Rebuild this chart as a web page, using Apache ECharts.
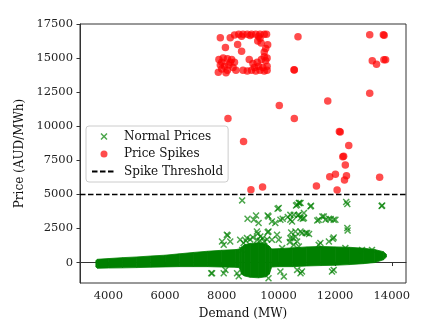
<!DOCTYPE html>
<html>
<head>
<meta charset="utf-8">
<script src="https://cdn.jsdelivr.net/npm/echarts@6/dist/echarts.min.js"></script>
<style>html,body{margin:0;padding:0;background:#fff}#c{width:429px;height:328px}</style>
</head>
<body>
<div id="c"></div>
<script>
// ---- data ----
const xTicks = [4000, 6000, 8000, 10000, 12000, 14000];
const yTicks = [0, 2500, 5000, 7500, 10000, 12500, 15000, 17500];
const xRange = [3000, 14500];
const yRange = [-1500, 17500];
const spikeThreshold = 5000;

// dense band of normal prices: demand, lower edge, upper edge of the cloud
const bandDemand = [3560, 3620, 4000, 4500, 5000, 5500, 6000, 6500, 7000, 7500, 8000, 8500, 8620, 8700, 8800, 9000, 9300, 9550, 9680, 9760, 10000, 10500, 11000, 11500, 12000, 12500, 13000, 13400, 13700, 13810];
const bandLow    = [-330, -420, -400, -390, -370, -340, -320, -300, -300, -300, -330, -350, -380, -850, -980, -1080, -1120, -1050, -850, -330, -300, -300, -250, -220, -200, -150, -80, 0, 200, 400];
const bandHigh   = [150, 240, 290, 360, 410, 480, 540, 640, 740, 830, 900, 950, 1000, 1150, 1300, 1400, 1450, 1400, 1200, 1000, 1020, 1080, 1150, 1180, 1150, 1120, 1050, 950, 800, 600];

// scattered normal-price points outside the dense band
const normalOutliers = [
  [7630,-780],[8720,4560],[8010,1540],[8070,1300],[8180,2040],[8210,1980],[8300,1540],
  [8650,1670],[8770,1430],[8890,1800],[8720,930],[9100,1850],[9450,1800],[9600,1700],
  [8850,1600],[9000,1700],[9250,1650],[9350,1600],[9500,1550],
  [8910,3210],[9130,3140],[9210,3450],[9300,2900],[9620,3450],[9650,3380],[9770,3010],
  [9240,2280],[9270,2110],[9360,1910],[9650,2280],[9620,2230],[9770,1670],[10010,1670],[9950,2040],
  [9970,3950],[10010,4000],[10070,3140],[9890,2900],[10150,3210],[10330,3340],
  [10420,3500],[10420,3140],[10540,3500],[10480,3010],
  [10620,4190],[10660,4240],[10740,4370],[10780,4370],[10720,4370],
  [10680,3450],[10720,3500],[10780,3260],[10860,3210],[10900,3630],[10900,3260],
  [10600,2280],[10780,2280],[10830,2160],[10960,2160],[11010,2160],[11080,2090],
  [10130,1060],[10420,1790],[10660,1540],[10720,1180],[10540,1300],
  [10400,1500],[10500,1800],[10600,1900],[10450,2200],
  [11130,4120],[11150,4170],
  [11370,3090],[11420,3140],[11550,3380],[11600,3380],[11660,3140],[11780,3210],[11840,3190],[11950,3140],[12010,3140],
  [12430,4290],[12390,4440],[12430,2530],[12440,2350],
  [11950,1840],[11920,1740],[11780,1540],[11420,1300],[11480,1430],
  [12360,1060],[12950,930],[13300,930],[13660,4190],[13640,4150],
  [7660,-780],[8070,-780],[8130,-540],[8540,-780],[8600,-1000],[9650,-1150],[10070,-660],[10190,-1030],
  [10660,-540],[10780,-780],[11890,-660],[11950,-540],[10830,-660]
];

// price spikes
const spikePoints = [
  [8600,16750],[8750,16750],[8900,16750],[9050,16750],[9200,16750],[9350,16750],[9500,16750],[9580,16750],
  [8700,16600],[9000,16650],[9300,16600],
  [7950,16500],[8300,16500],[8450,16700],[8130,15780],[8560,16000],[8700,15500],
  [9270,16250],[9390,16100],[9620,15980],[9500,15450],[9350,16450],[9550,15700],
  [7900,14900],[8050,15000],[8200,14950],[8350,14900],[8450,14700],[7950,14500],[8100,14400],
  [8250,14500],[8400,14300],[8000,14200],[8200,14100],[7880,13960],[8150,13920],[8500,14110],
  [8300,14700],[8000,14700],
  [8750,14100],[8900,14050],[9050,14100],[9200,14050],[9350,14100],[9500,14050],[9600,14100],
  [8970,14900],[9100,14600],[9250,14700],[9400,14900],[9550,14800],[9600,14400],[9300,14400],
  [9450,14300],[9150,14300],[9600,15000],[9500,15100],
  [10690,16570],[10550,14150],[10560,14120],
  [8220,10560],[8770,8880],[10030,11520],[10560,10560],[9030,5340],[9440,5550],
  [13220,16710],[13700,16710],[13730,16680],[13310,14800],[13460,14550],[13720,14880],[13780,14880],
  [13220,12420],[11740,11860],[12150,9610],[12180,9580],[12480,8580],[12270,7770],[12300,7800],
  [12360,7160],[12010,6470],[11810,6300],[12400,6370],[12330,6060],[13570,6250],[11340,5610],[12070,5320]
];

// ---- chart ----
const FONT = 'DejaVu Serif';
const xSym = 'path://M0,1.5L1.5,0L5,3.5L8.5,0L10,1.5L6.5,5L10,8.5L8.5,10L5,6.5L1.5,10L0,8.5L3.5,5Z';

const bandSegments = [];
for (let i = 0; i < bandDemand.length - 1; i++) {
  bandSegments.push([bandDemand[i], bandLow[i], bandHigh[i], bandDemand[i+1], bandLow[i+1], bandHigh[i+1]]);
}
const plain = v => String(v);

const chart = echarts.init(document.getElementById('c'), null, {renderer: 'canvas'});
chart.setOption({
  animation: false,
  textStyle: {fontFamily: FONT},
  grid: {left: 80, right: 23, top: 24, bottom: 45, show: true, borderColor: '#333', borderWidth: 1},
  xAxis: {
    type: 'value', min: xRange[0], max: xRange[1],
    name: 'Demand (MW)', nameLocation: 'middle', nameGap: 25,
    nameTextStyle: {fontFamily: FONT, fontSize: 12, color: '#111'},
    axisLine: {lineStyle: {color: '#333', width: 1}},
    axisTick: {show: true, length: 3.5, customValues: xTicks, lineStyle: {color: '#333'}},
    axisLabel: {customValues: xTicks, formatter: plain, fontFamily: FONT, fontSize: 11.5, color: '#222', margin: 7},
    splitLine: {show: false}
  },
  yAxis: {
    type: 'value', min: yRange[0], max: yRange[1],
    name: 'Price (AUD/MWh)', nameLocation: 'middle', nameGap: 45,
    nameTextStyle: {fontFamily: FONT, fontSize: 12, color: '#111'},
    axisLine: {show: true, lineStyle: {color: '#333', width: 1}},
    axisTick: {show: true, length: 3.5, customValues: yTicks, lineStyle: {color: '#333'}},
    axisLabel: {customValues: yTicks, formatter: plain, fontFamily: FONT, fontSize: 11.5, color: '#222', margin: 7},
    splitLine: {show: false}
  },
  legend: {
    orient: 'vertical', left: 86, top: 126,
    padding: [4, 5, 4, 5], itemGap: 4.5, itemWidth: 24, itemHeight: 7,
    borderColor: '#ccc', borderWidth: 1, borderRadius: 3, backgroundColor: 'rgba(255,255,255,0.85)',
    textStyle: {fontFamily: FONT, fontSize: 12, color: '#111', lineHeight: 13, padding: [0,0,0,3]},
    data: ['Normal Prices', 'Price Spikes',
      {name: 'Spike Threshold', itemStyle: {opacity: 0}}]
  },
  series: [
    {
      type: 'custom', name: 'band', coordinateSystem: 'cartesian2d', clip: true,
      encode: {x: [0, 3], y: [1, 2, 4, 5]},
      data: bandSegments,
      renderItem: function (params, api) {
        const p0l = api.coord([api.value(0), api.value(1)]);
        const p0h = api.coord([api.value(0), api.value(2)]);
        const p1l = api.coord([api.value(3), api.value(4)]);
        const p1h = api.coord([api.value(3), api.value(5)]);
        return {type: 'polygon', shape: {points: [p0l, p1l, p1h, p0h]},
          style: {fill: '#008000', stroke: '#008000', lineWidth: 0.8}};
      },
      z: 2
    },
    {
      type: 'scatter', name: 'Normal Prices', data: normalOutliers,
      symbol: xSym, symbolSize: 7,
      itemStyle: {color: '#008000', opacity: 0.7}, z: 3
    },
    {
      type: 'scatter', name: 'Price Spikes', data: spikePoints,
      symbol: 'circle', symbolSize: 7.5,
      itemStyle: {color: '#ff0000', opacity: 0.7}, z: 4
    },
    {
      type: 'line', name: 'Spike Threshold',
      data: [[xRange[0], spikeThreshold], [xRange[1], spikeThreshold]],
      symbol: 'none', itemStyle: {color: '#000'},
      lineStyle: {color: '#000', width: 1.5, type: [5.5, 2.5]}, z: 5
    }
  ]
});
</script>
</body>
</html>
